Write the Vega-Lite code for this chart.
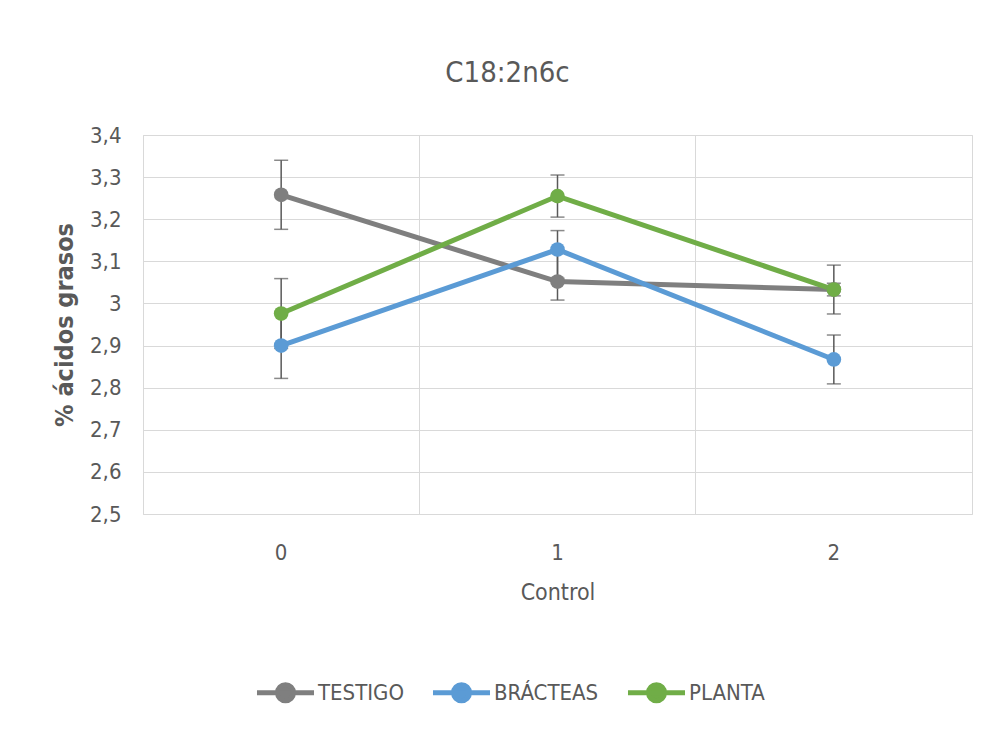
{
  "$schema": "https://vega.github.io/schema/vega-lite/v6.json",
  "width": 829,
  "height": 379,
  "autosize": "none",
  "padding": {"left": 143, "top": 135, "right": 20, "bottom": 224},
  "background": "white",
  "config": {
    "font": "DejaVu Sans Condensed, Roboto, sans-serif",
    "view": {"stroke": "#d9d9d9", "strokeWidth": 1},
    "axis": {"labelColor": "#595959", "titleColor": "#595959", "labelFont": "DejaVu Sans Condensed, Roboto, sans-serif", "titleFont": "DejaVu Sans Condensed, Roboto, sans-serif"},
    "legend": {"labelColor": "#595959", "labelFont": "DejaVu Sans Condensed, Roboto, sans-serif"}
  },
  "title": {"text": "C18:2n6c", "fontSize": 29, "fontWeight": "normal", "color": "#595959", "font": "DejaVu Sans Condensed, Roboto, sans-serif", "offset": 36, "dx": -50},
  "data": {"values": [
    {"control": "0", "serie": "TESTIGO", "valor": 3.258, "min": 3.176, "max": 3.340},
    {"control": "1", "serie": "TESTIGO", "valor": 3.052, "min": 3.008, "max": 3.120},
    {"control": "2", "serie": "TESTIGO", "valor": 3.033, "min": 3.018, "max": 3.048},
    {"control": "0", "serie": "BRÁCTEAS", "valor": 2.900, "min": 2.822, "max": 2.978},
    {"control": "1", "serie": "BRÁCTEAS", "valor": 3.128, "min": 3.060, "max": 3.173},
    {"control": "2", "serie": "BRÁCTEAS", "valor": 2.867, "min": 2.809, "max": 2.925},
    {"control": "0", "serie": "PLANTA", "valor": 2.976, "min": 2.893, "max": 3.059},
    {"control": "1", "serie": "PLANTA", "valor": 3.255, "min": 3.205, "max": 3.305},
    {"control": "2", "serie": "PLANTA", "valor": 3.033, "min": 2.975, "max": 3.091}
  ]},
  "encoding": {
    "x": {
      "field": "control", "type": "ordinal",
      "scale": {"paddingInner": 0, "paddingOuter": 0},
      "axis": {
        "title": "Control", "titleFontSize": 23, "titleFontWeight": "normal", "labelFontSize": 22, "labelAngle": 0,
        "ticks": false, "domain": false, "grid": true, "gridColor": "#d9d9d9", "bandPosition": 0,
        "labelPadding": 28, "titlePadding": 18
      }
    }
  },
  "layer": [
    {
      "mark": {"type": "errorbar", "ticks": {"size": 14, "color": "#595959", "thickness": 1.5}, "rule": {"color": "#595959", "strokeWidth": 1.5}},
      "encoding": {
        "y": {
          "field": "min", "type": "quantitative", "title": "% ácidos grasos",
          "scale": {"domain": [2.5, 3.4], "nice": false, "zero": false},
          "axis": {
            "values": [2.5, 2.6, 2.7, 2.8, 2.9, 3.0, 3.1, 3.2, 3.3, 3.4],
            "labelExpr": "replace(format(datum.value, '.1~f'), '.', ',')",
            "grid": true, "gridColor": "#d9d9d9", "domain": false, "ticks": false,
            "labelFontSize": 22, "labelPadding": 22,
            "titleFontSize": 25, "titleFontWeight": "bold", "titlePadding": 12
          }
        },
        "y2": {"field": "max"}
      }
    },
    {
      "mark": {"type": "line", "strokeWidth": 5},
      "encoding": {
        "y": {"field": "valor", "type": "quantitative", "title": "% ácidos grasos"},
        "color": {
          "field": "serie", "type": "nominal",
          "scale": {"domain": ["TESTIGO", "BRÁCTEAS", "PLANTA"], "range": ["#7f7f7f", "#5b9bd5", "#70ad47"]},
          "legend": {
            "title": null, "orient": "none", "direction": "horizontal", "legendX": 122, "legendY": 537,
            "symbolType": "M-1.6,0 L1.6,0 M-0.45,0 A0.45,0.45 0 1,1 0.45,0 A0.45,0.45 0 1,1 -0.45,0 Z",
            "symbolSize": 1270, "symbolStrokeWidth": 5, "labelFontSize": 22, "columnPadding": 18, "labelOffset": 12,
            "encode": {"symbols": {"update": {"fill": {"scale": "color", "field": "value"}, "stroke": {"scale": "color", "field": "value"}, "opacity": {"value": 1}}}}
          }
        }
      }
    },
    {
      "mark": {"type": "point", "filled": true, "size": 215, "opacity": 1},
      "encoding": {
        "y": {"field": "valor", "type": "quantitative", "title": "% ácidos grasos"},
        "color": {
          "field": "serie", "type": "nominal",
          "scale": {"domain": ["TESTIGO", "BRÁCTEAS", "PLANTA"], "range": ["#7f7f7f", "#5b9bd5", "#70ad47"]},
          "legend": {
            "title": null, "orient": "none", "direction": "horizontal", "legendX": 122, "legendY": 537,
            "symbolType": "M-1.6,0 L1.6,0 M-0.45,0 A0.45,0.45 0 1,1 0.45,0 A0.45,0.45 0 1,1 -0.45,0 Z",
            "symbolSize": 1270, "symbolStrokeWidth": 5, "labelFontSize": 22, "columnPadding": 18, "labelOffset": 12,
            "encode": {"symbols": {"update": {"fill": {"scale": "color", "field": "value"}, "stroke": {"scale": "color", "field": "value"}, "opacity": {"value": 1}}}}
          }
        }
      }
    }
  ]
}
